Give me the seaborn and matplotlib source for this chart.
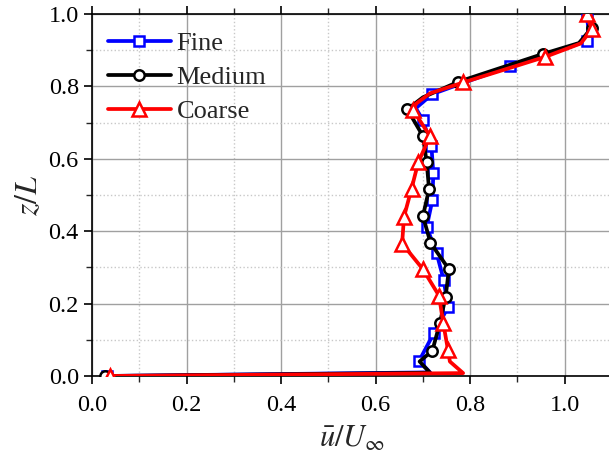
import matplotlib
matplotlib.use("Agg")
import matplotlib.pyplot as plt
import seaborn as sns
import pandas as pd
from matplotlib.ticker import MultipleLocator

# ---- data ----
fine_x = [1.046, 1.050, 1.046, 0.965, 0.884, 0.790, 0.720, 0.685, 0.700, 0.718, 0.722, 0.720,
          0.708, 0.729, 0.744, 0.753, 0.723, 0.692, 0.715, 0.032]
fine_y = [1.000, 0.960, 0.926, 0.888, 0.856, 0.812, 0.779, 0.740, 0.707, 0.635, 0.560, 0.486,
          0.412, 0.339, 0.265, 0.190, 0.118, 0.042, 0.010, 0.000]
fine_mark = [0, 2, 4, 6, 8, 9, 10, 11, 12, 13, 14, 15, 16, 17, 19]

medium_x = [1.046, 1.057, 1.030, 0.954, 0.775, 0.700, 0.667, 0.700, 0.708, 0.713, 0.700,
            0.716, 0.755, 0.748, 0.736, 0.720, 0.693, 0.715, 0.027]
medium_y = [1.000, 0.962, 0.920, 0.890, 0.813, 0.770, 0.737, 0.663, 0.590, 0.516, 0.442,
            0.368, 0.295, 0.219, 0.147, 0.070, 0.040, 0.009, 0.000]
medium_mark = [1, 3, 4, 6, 7, 8, 9, 10, 11, 12, 13, 14, 15, 18]

coarse_x = [1.046, 1.057, 1.034, 0.959, 0.785, 0.715, 0.686, 0.679, 0.715, 0.690, 0.676,
            0.660, 0.656, 0.700, 0.734, 0.743, 0.753, 0.757, 0.785, 0.038]
coarse_y = [1.000, 0.958, 0.919, 0.882, 0.811, 0.781, 0.753, 0.735, 0.663, 0.590, 0.518,
            0.440, 0.366, 0.295, 0.222, 0.146, 0.072, 0.040, 0.008, 0.000]
coarse_mark = [0, 1, 3, 4, 7, 8, 9, 10, 11, 12, 13, 14, 15, 16, 19]

labels = ["Fine", "Medium", "Coarse"]
x_ticks = [0.0, 0.2, 0.4, 0.6, 0.8, 1.0]
y_ticks = [0.0, 0.2, 0.4, 0.6, 0.8, 1.0]

sns.set_theme(style="ticks")
plt.rcParams["font.family"] = ["Liberation Serif", "DejaVu Serif"]
plt.rcParams["mathtext.fontset"] = "stix"

fig = plt.figure(figsize=(6.09, 4.70), dpi=100)
ax = fig.add_axes([0.151, 0.200, 0.854, 0.770])

series = [
    (fine_x, fine_y, fine_mark, "#0000ff", "s", 6.5),
    (medium_x, medium_y, medium_mark, "#000000", "o", 7.5),
    (coarse_x, coarse_y, coarse_mark, "#ff0000", "^", 9.5),
]
for (xs, ys, mk, col, m, ms), lab in zip(series, labels):
    df = pd.DataFrame({"u": xs, "z": ys})
    sns.lineplot(data=df, x="u", y="z", sort=False, estimator=None, ax=ax,
                 color=col, linewidth=2.7, marker=m, markersize=ms,
                 markerfacecolor="white", markeredgecolor=col, markeredgewidth=1.8,
                 markevery=mk, label=lab, zorder=3)

ax.set_xlim(0, 1.1)
ax.set_ylim(0, 1.0)
ax.set_xticks(x_ticks)
ax.set_yticks(y_ticks)
ax.set_xticklabels([f"{v:.1f}" for v in x_ticks])
ax.set_yticklabels([f"{v:.1f}" for v in y_ticks])
ax.xaxis.set_minor_locator(MultipleLocator(0.1))
ax.yaxis.set_minor_locator(MultipleLocator(0.1))
ax.grid(which="major", color="#a0a0a0", linestyle="-", linewidth=1.0, zorder=0)
ax.grid(which="minor", color="#c8c8c8", linestyle=":", linewidth=1.0, zorder=0)
ax.tick_params(which="major", direction="out", length=6, width=1.2, labelsize=17.5,
               colors="black", top=True, right=True)
ax.tick_params(axis="x", which="major", pad=8)
ax.tick_params(which="minor", direction="out", length=4, width=1.0, top=True, right=True)
for s in ax.spines.values():
    s.set_color("black")
    s.set_linewidth(1.2)

ax.set_xlabel(r"$\bar{u}/U_{\infty}$", fontsize=22, labelpad=6)
ax.set_ylabel(r"$z/L$", fontsize=23, labelpad=3)

leg = ax.legend(loc="upper left", frameon=False, fontsize=19, handlelength=2.4,
                handletextpad=0.2, labelspacing=0.4, borderaxespad=0.2,
                bbox_to_anchor=(0.0, 0.995))

fig.savefig("out.png", dpi=100)
